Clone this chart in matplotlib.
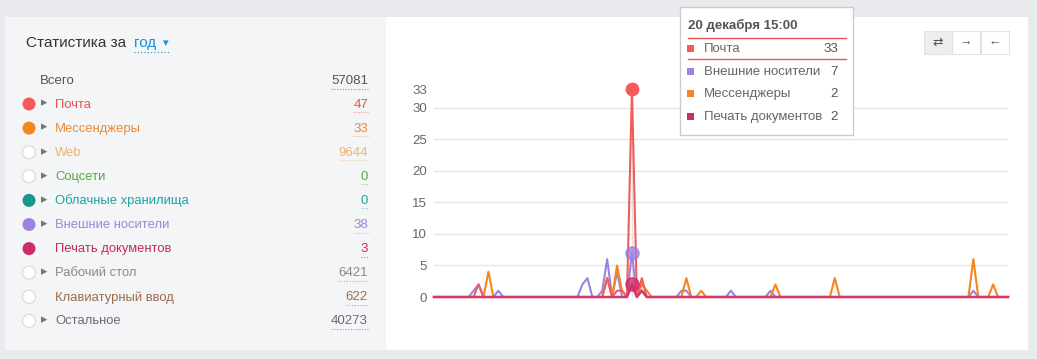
import numpy as np
import matplotlib.pyplot as plt
from matplotlib.patches import Rectangle, Circle

plt.rcParams['font.family'] = ['Liberation Sans', 'DejaVu Sans']

# ---- data ----
categories = ['Почта', 'Мессенджеры', 'Web', 'Соцсети', 'Облачные хранилища',
              'Внешние носители', 'Печать документов', 'Рабочий стол',
              'Клавиатурный ввод', 'Остальное']
totals = [47, 33, 9644, 0, 0, 38, 3, 6421, 622, 40273]
total_all = 57081
active = [True, True, False, False, True, True, True, False, False, False]
expandable = [True, True, True, True, True, True, False, True, False, True]
text_colors = ['#e8534f', '#f08a30', '#f2b36b', '#5aa83a', '#1fa3a1',
               '#9b88d6', '#c32d5e', '#8a8a8a', '#9c6b4f', '#6b6b7b']
dot_colors = ['#f45b5b', '#f7851e', None, None, '#18968f',
              '#9d82e0', '#cc2e6a', None, None, None]

n_points = 117
# (index, value) spikes, zero elsewhere
pochta_pts = {9: 2, 35: 3, 37: 1, 38: 1, 40: 33, 42: 3}
messengers_pts = {11: 4, 35: 3, 37: 5, 38: 1, 40: 2, 42: 2, 43: 1, 51: 3,
                  54: 1, 69: 2, 81: 3, 109: 6, 113: 2}
external_pts = {8: 1, 9: 2, 13: 1, 30: 2, 31: 3, 34: 1, 35: 6, 37: 4, 40: 7,
                42: 1, 50: 1, 51: 1, 60: 1, 68: 1, 109: 1}
printing_pts = {40: 2, 42: 1}

tooltip_title = '20 декабря 15:00'
tooltip_rows = [('Почта', 33, '#f45b5b'), ('Внешние носители', 7, '#9d82e0'),
                ('Мессенджеры', 2, '#f7851e'), ('Печать документов', 2, '#cc2e6a')]
hover_idx = 40
yticks = [0, 5, 10, 15, 20, 25, 30, 33]


def series(pts):
    s = np.zeros(n_points)
    for k, v in pts.items():
        s[k] = v
    return s


pochta = series(pochta_pts)
messengers = series(messengers_pts)
external = series(external_pts)
printing = series(printing_pts)

W, H = 1037, 359
fig = plt.figure(figsize=(W / 100, H / 100), dpi=100)
fig.patch.set_facecolor('#e9eaee')

# background axes in pixel coordinates
bg = fig.add_axes([0, 0, 1, 1])
bg.set_xlim(0, W)
bg.set_ylim(H, 0)
bg.axis('off')

bg.add_patch(Rectangle((5, 17), 381, 333, facecolor='#f4f5f7', edgecolor='none'))
bg.add_patch(Rectangle((386, 17), 642, 333, facecolor='white', edgecolor='none'))

# header
bg.text(26, 43, 'Статистика за', fontsize=11, color='#333333', va='center')
bg.text(134, 43, 'год', fontsize=11, color='#1a8fd8', va='center')
bg.plot([134, 170], [52, 52], color='#1a8fd8', lw=0.8, ls=(0, (1, 2)))
bg.text(166, 43, '▾', fontsize=8, color='#1a8fd8', va='center', ha='center')

fig.canvas.draw()
renderer = fig.canvas.get_renderer()


def value_text(x, y, s, color):
    t = bg.text(x, y, s, fontsize=9.5, color=color, va='center', ha='right')
    w = t.get_window_extent(renderer).width
    bg.plot([x - w, x], [y + 7.5, y + 7.5], color=color, lw=0.8, ls=(0, (1, 1.5)), alpha=0.6)


bg.text(40, 81, 'Всего', fontsize=9.5, color='#555555', va='center')
value_text(368, 81, str(total_all), '#555555')

for i, name in enumerate(categories):
    y = 104.5 + i * 24.1
    if active[i]:
        bg.add_patch(Circle((29, y - 0.5), 6.5, facecolor=dot_colors[i], edgecolor='none'))
    else:
        bg.add_patch(Circle((29, y - 0.5), 6.5, facecolor='white', edgecolor='#d8d8d8', lw=0.8))
    if expandable[i]:
        bg.text(44, y - 1, '▸', fontsize=9, color='#777777', va='center', ha='center')
    bg.text(55, y, name, fontsize=9.4, color=text_colors[i], va='center')
    value_text(368, y, str(totals[i]), text_colors[i])

# toggle buttons
btn_x = [924, 952, 981]
btn_sym = ['⇄', '→', '←']
for j, (bx, sym) in enumerate(zip(btn_x, btn_sym)):
    bg.add_patch(Rectangle((bx, 31), 28, 23, facecolor='#eeeeee' if j == 0 else 'white',
                           edgecolor='#e2e2e2', lw=0.8))
    bg.text(bx + 14, 43, sym, fontsize=9, color='#555555', ha='center', va='center')

# ---- chart ----
ax = fig.add_axes([434 / W, 1 - 297 / H, (1008 - 434) / W, (297 - 89) / H])
ax.set_facecolor('none')
x = np.arange(n_points)
ax.plot([hover_idx, hover_idx], [0, 33], color='#e0e0e0', lw=1, zorder=1)
ax.plot(x, external, color='#9d82e0', lw=1.5, clip_on=False, zorder=2)
ax.plot(x, messengers, color='#f7851e', lw=1.5, clip_on=False, zorder=3)
ax.plot(x, pochta, color='#f45b5b', lw=1.5, clip_on=False, zorder=4)
ax.plot(x, printing, color='#d23a6d', lw=1.8, clip_on=False, zorder=5)

ax.scatter([hover_idx], [pochta[hover_idx]], s=80, color='#f45b5b', zorder=6, clip_on=False)
ax.scatter([hover_idx], [external[hover_idx]], s=90, color='#9d82e0', alpha=0.8, zorder=6, clip_on=False)
ax.scatter([hover_idx], [printing[hover_idx]], s=90, color='#cc2e6a', alpha=0.8, zorder=6, clip_on=False)

ax.set_xlim(0, n_points - 1)
ax.set_ylim(0, 33)
ax.set_yticks(yticks)
ax.set_yticklabels([str(t) for t in yticks])
ax.tick_params(axis='y', length=0, pad=5, labelsize=9.5, labelcolor='#666666')
ax.set_xticks([])
for v in yticks[1:-1]:
    ax.axhline(v, color='#e6e6e6', lw=1, zorder=0)
for sp in ax.spines.values():
    sp.set_visible(False)

# tooltip (drawn last, on top)
tip = fig.add_axes([0, 0, 1, 1])
tip.set_xlim(0, W)
tip.set_ylim(H, 0)
tip.axis('off')
tip.patch.set_visible(False)
tip.add_patch(Rectangle((680, 7), 173, 128, facecolor='white', edgecolor='#cccccc', lw=1))
tip.text(688, 25, tooltip_title, fontsize=9.5, fontweight='bold', color='#555555', va='center')
tip.plot([688, 846], [38, 38], color='#e8534f', lw=1)
tip.plot([688, 846], [59, 59], color='#e8534f', lw=1)
row_y = [49, 72, 94, 117]
for (name, val, col), ry in zip(tooltip_rows, row_y):
    tip.add_patch(Rectangle((687, ry - 4), 7, 7, facecolor=col, edgecolor='none'))
    tip.text(704, ry, name, fontsize=9.5, color='#666666', va='center')
    tip.text(838, ry, str(val), fontsize=9.5, color='#555555', va='center', ha='right')

fig.savefig('out.png', dpi=100, facecolor=fig.get_facecolor())
